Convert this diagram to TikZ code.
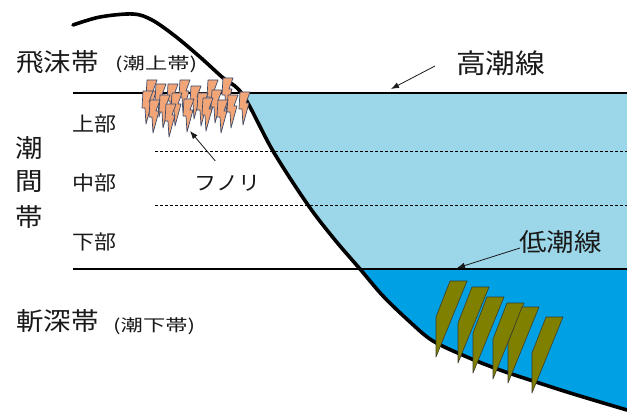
\documentclass[tikz,border=0pt]{standalone}
\usepackage{fontspec}
\setmainfont{Noto Sans CJK JP}
\newfontfamily\jpwide[FakeStretch=1.1]{Noto Sans CJK JP}
\newfontfamily\jpwider[FakeStretch=1.35]{Noto Sans CJK JP}
\usetikzlibrary{arrows.meta}
\definecolor{shallow}{RGB}{155,215,232}
\definecolor{deep}{RGB}{0,160,228}
\definecolor{kelpfill}{RGB}{128,128,0}
\definecolor{kelpline}{RGB}{60,60,40}
\definecolor{frondfill}{RGB}{242,166,120}
\definecolor{frondline}{RGB}{60,74,106}
\definecolor{ink}{RGB}{25,25,25}
\tikzset{
  shore/.style={line width=3.6pt, line join=round, line cap=round, black},
  tideline/.style={line width=2pt, black},
  zoneline/.style={line width=0.7pt, dash pattern=on 3pt off 2pt, black},
  pointer/.style={line width=0.8pt, ink, -{Latex[length=8pt,width=6pt]}},
  kelp/.style={fill=kelpfill, draw=kelpline, line width=0.6pt, line join=round},
  frond/.style={fill=frondfill, draw=frondline, line width=0.7pt, line join=round},
  big/.style={inner sep=0pt, anchor=west, text=ink, font=\jpwide\fontsize{25}{27}\selectfont},
  bigger/.style={inner sep=0pt, anchor=west, text=ink, font=\jpwide\fontsize{27}{29}\selectfont},
  mid/.style={inner sep=0pt, anchor=west, text=ink, font=\jpwide\fontsize{20}{22}\selectfont},
  small/.style={inner sep=0pt, anchor=west, text=ink, font=\jpwider\fontsize{16.5}{18}\selectfont}
}
% one sea-weed blade: top-left corner at (#1,#2)
\newcommand\kelpblade[2]{\filldraw[kelp] (#1,#2) -- ++(17,0) -- ++(-31,76) -- ++(0,-40) -- cycle;}
% one funori frond: top-left corner at (#1,#2)
\newcommand\funori[2]{\filldraw[frond] (#1,#2) -- ++(10,0) -- ++(-4,11) -- ++(3,0) -- ++(-6,22) -- ++(-1,-16) -- ++(-3,0) -- cycle;}
\begin{document}
\begin{tikzpicture}[x=1pt,y=-1pt]
\useasboundingbox (0,0) rectangle (627,412);
\fill[white] (0,0) rectangle (627,412);

% the shore profile
\def\shorepath{plot[smooth, tension=0.55] coordinates {(73,25) (100,17) (133,14) (152,20) (175,36) (200,57) (222,77) (243,95) (273,151) (308,205) (335,240) (360,269) (383,296) (410,322) (433,341) (467,357) (500,370) (533,381) (567,392) (600,402) (627,410)}}

% sea water, clipped to the sea side of the shore
\begin{scope}
  \clip \shorepath -- (627,-5) -- (73,-5) -- cycle;
  \fill[shallow] (0,93) rectangle (627,269);
  \fill[deep] (0,269) rectangle (627,412);
\end{scope}

% zone boundaries
\draw[zoneline] (155,151) -- (627,151);
\draw[zoneline] (155,205) -- (627,205);
\draw[tideline] (73,93) -- (627,93);
\draw[tideline] (73,269) -- (627,269);

\draw[shore] \shorepath;

% sea weed below the low tide line
\kelpblade{450}{281}
\kelpblade{472}{287}
\kelpblade{487}{297}
\kelpblade{507}{303}
\kelpblade{522}{307}
\kelpblade{546}{317}

% funori on the upper shore
\foreach \p/\q in {147/80, 156/84, 168/84, 180/80, 191/86, 208/80, 223/78,
                   143/91, 160/95, 172/93, 198/93, 212/90, 228/95, 240/92,
                   184/99, 203/98, 150/100, 166/104, 218/100}
  {\funori{\p}{\q}}

% labels
\node[big] (hishi) at (16,62) {飛沫帯};
\node[small] (hishisub) at (115,64) {(潮上帯)};
\node[bigger] (kocho) at (456,63) {高潮線};
\node[big] (c1) at (15,148) {潮};
\node[big] (c2) at (15,182) {間};
\node[big] (c3) at (15,217) {帯};
\node[mid] (jobu) at (72,124) {上部};
\node[mid] (chubu) at (72,183) {中部};
\node[mid] (kabu) at (72,242) {下部};
\node[mid] (funo) at (194,183) {フノリ};
\node[big] (teicho) at (519,242) {低潮線};
\node[big] (zen) at (16,321) {斬深帯};
\node[small] (zensub) at (113,326) {(潮下帯)};

% pointers
\coordinate (kochoTip) at (391,89);
\coordinate (teichoTip) at (457,268);
\coordinate (funoTip) at (190,131);
\draw[pointer] (kocho.west) ++(-21,3) -- (kochoTip);
\draw[pointer] (teicho.west) ++(1,6) -- (teichoTip);
\draw[pointer] (funo.north) ++(-12,-14) -- (funoTip);
\end{tikzpicture}
\end{document}
